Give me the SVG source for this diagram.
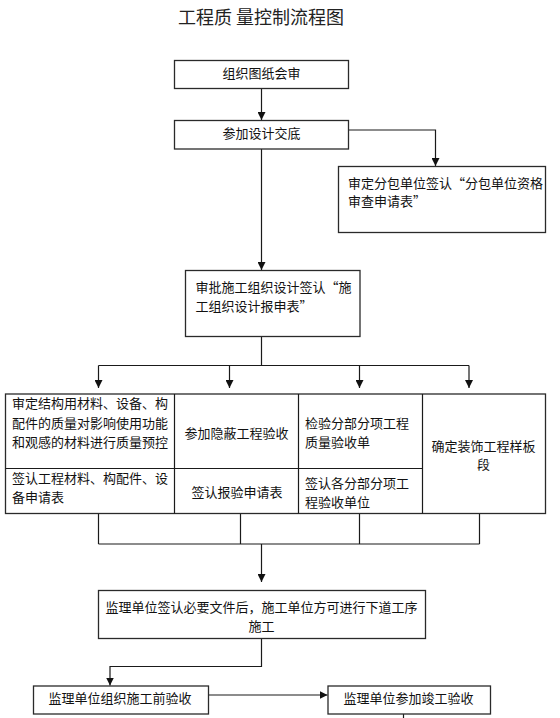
<svg xmlns="http://www.w3.org/2000/svg" width="560" height="718" viewBox="0 0 560 718">
<style>
.box{fill:#fff;stroke:#2a2a2a;stroke-width:1.3}
.t{font-family:"Noto Sans CJK SC","Noto Sans",sans-serif;font-size:13px;fill:#111}
.c{text-anchor:middle}
.ln{fill:none;stroke:#1a1a1a;stroke-width:1.2}
.title{font-family:"Noto Sans CJK SC","Noto Sans",sans-serif;font-size:18px;fill:#222;text-anchor:middle}
</style>
<defs>
<marker id="ah" markerUnits="userSpaceOnUse" markerWidth="9" markerHeight="8" refX="8" refY="4" orient="auto">
<path d="M0,0 L8,4 L0,8 Z" fill="#111"/>
</marker>
</defs>
<rect width="560" height="718" fill="#fff"/>
<text class="title" x="261" y="24">工程质 量控制流程图</text>

<g id="connectors" class="ln">
<path d="M261.5,88.5 V120" marker-end="url(#ah)"/>
<path d="M348.5,130 H435.5 V166" marker-end="url(#ah)"/>
<path d="M261.5,149 V270" marker-end="url(#ah)"/>
<path d="M261.5,336.5 V365.5 M98.5,365.5 H469"/>
<path d="M98.5,365.5 V388" marker-end="url(#ah)"/>
<path d="M229.5,365.5 V388" marker-end="url(#ah)"/>
<path d="M359.5,365.5 V388" marker-end="url(#ah)"/>
<path d="M469,365.5 V388" marker-end="url(#ah)"/>
<path d="M98.5,513.5 V544 M240.5,513.5 V544 M359.5,513.5 V544 M479.5,513.5 V544 M98.5,544 H479.5"/>
<path d="M261.5,544 V582" marker-end="url(#ah)"/>
<path d="M261.5,638.5 V666.5 H110 V685.5" marker-end="url(#ah)"/>
<path d="M208.5,695 H327.5" marker-end="url(#ah)"/>
<path d="M403.5,714 V718"/>
</g>

<g id="n1">
<rect class="box" x="174.5" y="60.5" width="174" height="28"/>
<text class="t c" x="261.5" y="78">组织图纸会审</text>
</g>
<g id="n2">
<rect class="box" x="174.5" y="120.5" width="174" height="28.5"/>
<text class="t c" x="261.5" y="138">参加设计交底</text>
</g>
<g id="n3">
<rect class="box" x="338.5" y="166.5" width="207" height="66"/>
<text class="t" x="348" y="188">审定分包单位签认“分包单位资格</text>
<text class="t" x="348" y="205.5">审查申请表”</text>
</g>
<g id="n4">
<rect class="box" x="185.5" y="270.5" width="174.5" height="66"/>
<text class="t" x="195.5" y="292">审批施工组织设计签认“施</text>
<text class="t" x="195.5" y="311">工组织设计报申表”</text>
</g>
<g id="table">
<rect class="box" x="5.5" y="394" width="540" height="119.5"/>
<path class="ln" d="M174.5,394 V513.5 M298.5,394 V513.5 M422.5,394 V513.5 M5.5,468.5 H422.5" stroke-width="1.3"/>
</g>
<g id="c1a">
<text class="t" x="12" y="408">审定结构用材料、设备、构</text>
<text class="t" x="12" y="428">配件的质量对影响使用功能</text>
<text class="t" x="12" y="446.5">和观感的材料进行质量预控</text>
</g>
<g id="c1b">
<text class="t" x="12" y="483">签认工程材料、构配件、设</text>
<text class="t" x="12" y="501.5">备申请表</text>
</g>
<g id="c2a">
<text class="t c" x="236.5" y="438">参加隐蔽工程验收</text>
</g>
<g id="c2b">
<text class="t c" x="237" y="496.5">签认报验申请表</text>
</g>
<g id="c3a">
<text class="t" x="305" y="427.5">检验分部分项工程</text>
<text class="t" x="305" y="446.5">质量验收单</text>
</g>
<g id="c3b">
<text class="t" x="305" y="488">签认各分部分项工</text>
<text class="t" x="305" y="506.5">程验收单位</text>
</g>
<g id="c4">
<text class="t c" x="483.5" y="451">确定装饰工程样板</text>
<text class="t c" x="483.5" y="469">段</text>
</g>
<g id="n5">
<rect class="box" x="98.5" y="590.5" width="327" height="48"/>
<text class="t c" x="261.5" y="611.5">监理单位签认必要文件后，施工单位方可进行下道工序</text>
<text class="t c" x="261.5" y="630.5">施工</text>
</g>
<g id="n6">
<rect class="box" x="33.5" y="686" width="175" height="28"/>
<text class="t c" x="120" y="703">监理单位组织施工前验收</text>
</g>
<g id="n7">
<rect class="box" x="328" y="686" width="162.5" height="28"/>
<text class="t c" x="408.5" y="703">监理单位参加竣工验收</text>
</g>
</svg>
